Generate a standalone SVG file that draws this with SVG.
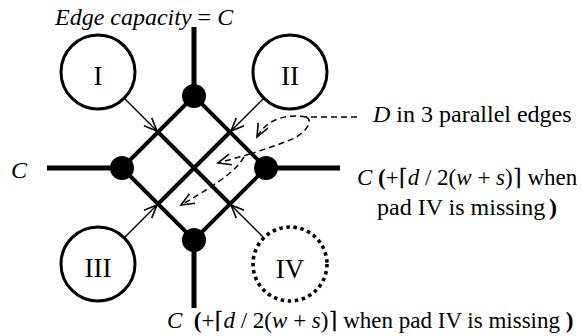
<svg xmlns="http://www.w3.org/2000/svg" width="582" height="336" viewBox="0 0 582 336">
<style>
text{font-family:"Liberation Serif","Times New Roman","DejaVu Serif",serif;fill:#000;font-size:24px}
.f{font-size:23px}
.it{font-style:italic}
.b{font-weight:bold}
.pad{fill:#fff;stroke:#000;stroke-width:3}
.missing{stroke-dasharray:3.5 3.6;stroke-width:3.6}
.lbl{font-size:27px;text-anchor:middle}
.grid{fill:none;stroke:#000;stroke-width:4;stroke-linejoin:miter}
.spoke{stroke:#000;stroke-width:5}
.dot{fill:#000}
.arr{fill:none;stroke:#000;stroke-width:1.5}
.dash{fill:none;stroke:#000;stroke-width:1.5;stroke-dasharray:6 4}
</style>
<defs>
<marker id="ah" viewBox="-15 -8 17 16" refX="0" refY="0" markerWidth="17" markerHeight="16" markerUnits="userSpaceOnUse" orient="auto">
<path d="M-13,-5.5 L0,0 L-13,5.5" fill="none" stroke="#000" stroke-width="1.6"/>
</marker>
</defs>
<g id="grid">
<path class="spoke" d="M194,27 V96 M47,168 H122 M266,168 H340 M194,240 V308"/>
<path class="grid" d="M194,96 L122,168 L194,240 L266,168 Z M158,132 L230,204 M230,132 L158,204"/>
</g>
<g id="junction-top"><circle class="dot" cx="194" cy="96" r="12"/></g>
<g id="junction-left"><circle class="dot" cx="122" cy="168" r="12"/></g>
<g id="junction-right"><circle class="dot" cx="266" cy="168" r="12"/></g>
<g id="junction-bottom"><circle class="dot" cx="194" cy="240" r="12"/></g>
<g id="pad-I"><circle class="pad" cx="98" cy="72" r="37"/><text class="lbl" x="98" y="85">I</text></g>
<g id="pad-II"><circle class="pad" cx="290" cy="72" r="37"/><text class="lbl" x="290" y="85">II</text></g>
<g id="pad-III"><circle class="pad" cx="98" cy="264" r="37"/><text class="lbl" x="98" y="277">III</text></g>
<g id="pad-IV"><circle class="pad missing" cx="290" cy="264" r="37"/><text class="lbl" x="290" y="278">IV</text></g>
<g id="connectors">
<path class="arr" marker-end="url(#ah)" d="M124,98 L157,131"/>
<path class="arr" marker-end="url(#ah)" d="M264,98 L231,131"/>
<path class="arr" marker-end="url(#ah)" d="M124,238 L157,205"/>
<path class="arr" marker-end="url(#ah)" d="M264,238 L231,205"/>
<path class="dash" d="M357,117 L306,117"/>
<path class="dash" marker-end="url(#ah)" d="M306,117 C286,113 266,120 257,137"/>
<path class="dash" d="M306,117 C314,120 306,134 290,140 C278,145 262,150 250,154"/>
<path class="dash" marker-end="url(#ah)" d="M250,154 L218,163"/>
<path class="dash" marker-end="url(#ah)" d="M244,157 C236,170 224,180 181,205"/>
</g>
<g id="labels">
<text x="55" y="25"><tspan class="it">Edge capacity</tspan> = <tspan class="it">C</tspan></text>
<text x="11" y="178" class="it">C</text>
<text x="373" y="122"><tspan class="it">D</tspan> in 3 parallel edges</text>
<text class="f" x="357" y="185" xml:space="preserve"><tspan class="it">C</tspan> <tspan class="b">(</tspan>+⌈<tspan class="it">d</tspan> / 2(<tspan class="it">w</tspan> + <tspan class="it">s</tspan>)⌉ when</text>
<text y="215"><tspan x="377">pad IV is missing</tspan><tspan class="b" x="549">)</tspan></text>
<text class="f" x="167" y="328" xml:space="preserve"><tspan class="it">C</tspan>  <tspan class="b">(</tspan>+⌈<tspan class="it">d</tspan> / 2(<tspan class="it">w</tspan> + <tspan class="it">s</tspan>)⌉ when pad IV is missing <tspan class="b">)</tspan></text>
</g>
</svg>
